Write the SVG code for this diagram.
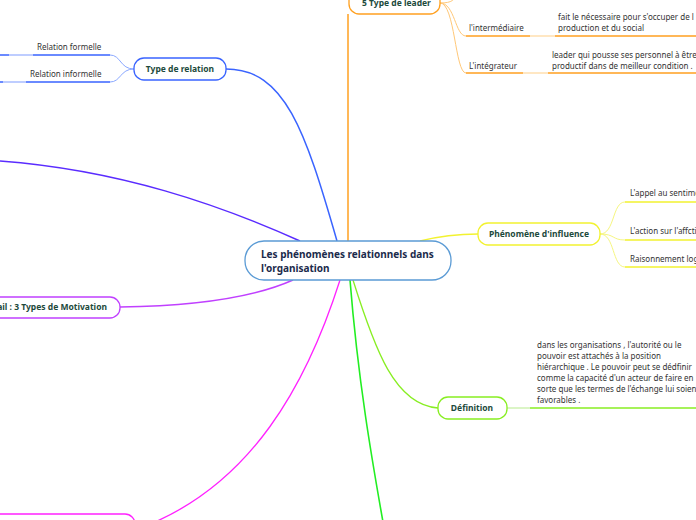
<svg xmlns="http://www.w3.org/2000/svg" width="696" height="520" viewBox="0 0 696 520">
<style>
text{font-family:"Noto Sans","Open Sans",sans-serif;}
.lbl{font-size:8.5px;font-weight:bold;fill:#1d4a3c;text-anchor:middle;}
.sm{font-size:8px;fill:#333;}
.node{fill:#fff;stroke-width:1.3;}
.c{fill:none;}
</style>
<rect width="696" height="520" fill="#fff"/>
<g id="connectors">
  <path class="c" d="M337 241 C305 130 285 69 226 69" stroke="#3a64ff" stroke-width="1.5"/>
  <path class="c" d="M134 69 C120 69 121 55 110 55 M134 69 C120 69 121 82 110 82" stroke="#8aa8ff" stroke-width="1"/>
  <path class="c" d="M33 55 H110 M0 55 H9" stroke="#3a64ff" stroke-width="1.5"/>
  <path class="c" d="M9 55 H33" stroke="#a9bcff" stroke-width="1.5"/>
  <path class="c" d="M26 82 H110 M0 82 H3" stroke="#3a64ff" stroke-width="1.5"/>
  <path class="c" d="M3 82 H26" stroke="#a9bcff" stroke-width="1.5"/>
  <path class="c" d="M0 161 C120 170 220 205 300 241" stroke="#5a2cff" stroke-width="1.5"/>
  <path class="c" d="M120 307 C200 306 255 297 293 280" stroke="#c040ff" stroke-width="1.5"/>
  <path class="c" d="M340 280 C305 390 250 480 155 522" stroke="#ff22ff" stroke-width="1.3"/>
  <path class="c" d="M350 280 C358 380 372 460 383 522" stroke="#22ee22" stroke-width="1.6"/>
  <path class="c" d="M353 280 C375 350 395 405 438 408" stroke="#88ee22" stroke-width="1.3"/>
  <path class="c" d="M507 408 H530" stroke="#c8f0a8" stroke-width="1.3"/>
  <path class="c" d="M530 408 H696" stroke="#88ee22" stroke-width="1.5"/>
  <path class="c" d="M348 241 V14" stroke="#ffa020" stroke-width="1.5"/>
  <path class="c" d="M440 3 C452 3 455 0 458 -8 M440 3 C455 3 455 36 466 36 M440 3 C455 3 455 73 466 73" stroke="#ffc878" stroke-width="1"/>
  <path class="c" d="M466 36 H530 M555 36 H696 M466 73 H523 M548 73 H696" stroke="#ffa020" stroke-width="1.5"/>
  <path class="c" d="M530 36 H555 M523 73 H548" stroke="#ffe0b0" stroke-width="1.5"/>
  <path class="c" d="M420 241 C440 236 460 234 478 234" stroke="#f2f230" stroke-width="1.3"/>
  <path class="c" d="M600 234 C615 234 612 202 625 202 M600 234 C615 234 612 240 625 240 M600 234 C615 234 612 267 625 267" stroke="#f6f680" stroke-width="1"/>
  <path class="c" d="M625 202 H696 M625 240 H696 M625 267 H696" stroke="#f2f230" stroke-width="1.5"/>
</g>
<g id="central">
  <rect class="node" x="245" y="241" width="206" height="39" rx="19" stroke="#5b9bd5"/>
  <text x="261" y="258" font-size="10" font-weight="bold" fill="#1b2b4b">Les phénomènes relationnels dans</text>
  <text x="261" y="272" font-size="10" font-weight="bold" fill="#1b2b4b">l'organisation</text>
</g>
<g id="type-relation">
  <rect class="node" x="134" y="58" width="92" height="22" rx="10" stroke="#3a64ff"/>
  <text class="lbl" x="180" y="72">Type de relation</text>
</g>
<g id="relation-formelle"><text class="sm" x="37" y="50">Relation formelle</text></g>
<g id="relation-informelle"><text class="sm" x="30" y="77">Relation informelle</text></g>
<g id="motivation">
  <rect class="node" x="-30" y="297" width="150" height="21" rx="10" stroke="#c040ff"/>
  <text class="lbl" x="107" y="310" style="text-anchor:end">vail : 3 Types de Motivation</text>
</g>
<g id="magenta-node">
  <rect class="node" x="-30" y="514" width="165" height="30" rx="10" stroke="#ff22ff"/>
</g>
<g id="type-leader">
  <rect class="node" x="349" y="-10" width="91" height="24" rx="10" stroke="#ffa020"/>
  <text class="lbl" x="362" y="6" style="text-anchor:start">5 Type de leader</text>
</g>
<g id="intermediaire">
  <text class="sm" x="469" y="31">l'intermédiaire</text>
  <text class="sm" x="558" y="20">fait le nécessaire pour s'occuper de l</text>
  <text class="sm" x="558" y="31">production et du social</text>
</g>
<g id="integrateur">
  <text class="sm" x="469" y="69">L'intégrateur</text>
  <text class="sm" x="552" y="58">leader qui pousse ses personnel à être</text>
  <text class="sm" x="552" y="69">productif dans de meilleur condition .</text>
</g>
<g id="phenomene-influence">
  <rect class="node" x="478" y="223" width="122" height="22" rx="10" stroke="#f2f230"/>
  <text class="lbl" x="539" y="237">Phénomène d'influence</text>
</g>
<g id="appel"><text class="sm" x="630" y="196">L'appel au sentime</text></g>
<g id="action"><text class="sm" x="630" y="234">L'action sur l'affcti</text></g>
<g id="raisonnement"><text class="sm" x="630" y="262">Raisonnement log</text></g>
<g id="definition">
  <rect class="node" x="438" y="397" width="69" height="22" rx="10" stroke="#88ee22"/>
  <text class="lbl" x="472" y="411">Définition</text>
  <text class="sm" x="537" y="348">dans les organisations  , l'autorité ou le</text>
  <text class="sm" x="537" y="359">pouvoir est attachés à la position</text>
  <text class="sm" x="537" y="370">hiérarchique . Le pouvoir peut se dédfinir</text>
  <text class="sm" x="537" y="381">comme la capacité d'un acteur de faire en</text>
  <text class="sm" x="537" y="392">sorte que les termes de l'échange lui soien</text>
  <text class="sm" x="537" y="403">favorables .</text>
</g>
</svg>
